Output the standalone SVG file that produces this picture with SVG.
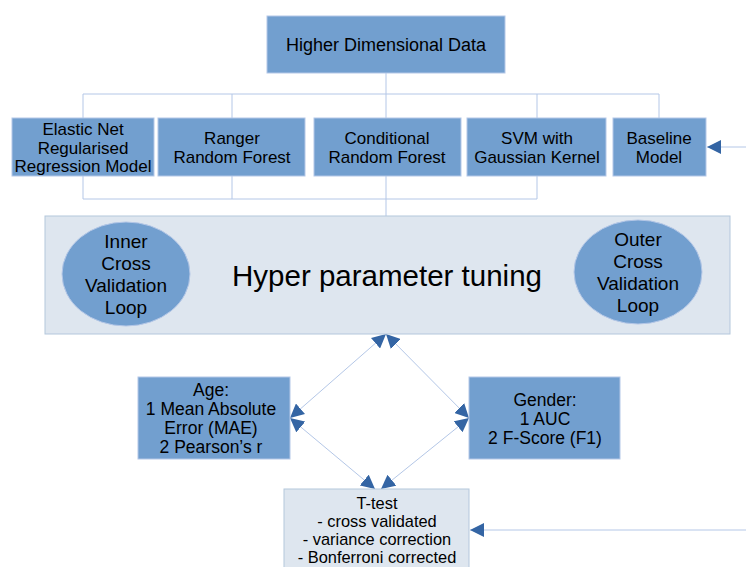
<svg xmlns="http://www.w3.org/2000/svg" width="746" height="567" viewBox="0 0 746 567">
<defs>
<style>
.box{fill:#729fcf;stroke:#b4c7e7;stroke-width:1}
.pale{fill:#dee6ef;stroke:#b4c7dc;stroke-width:1}
.ell{fill:#729fcf;stroke:#b4c7e7;stroke-width:1}
.t{font-family:"Liberation Sans",Arial,sans-serif;font-size:17px;fill:#000;text-anchor:middle}
.tt{font-family:"Liberation Sans",Arial,sans-serif;font-size:18px;fill:#000;text-anchor:middle}
.tm{font-family:"Liberation Sans",Arial,sans-serif;font-size:17.5px;fill:#000;text-anchor:middle}
.ts{font-family:"Liberation Sans",Arial,sans-serif;font-size:16.4px;fill:#000;text-anchor:middle}
.te{font-family:"Liberation Sans",Arial,sans-serif;font-size:19px;fill:#000;text-anchor:middle}
.big{font-family:"Liberation Sans",Arial,sans-serif;font-size:29.5px;fill:#000;text-anchor:middle}
.ln{fill:none;stroke:#b4c7e7;stroke-width:1}
.ar{fill:none;stroke:#b4c7e7;stroke-width:1;marker-end:url(#ah)}
.ar2{fill:none;stroke:#b4c7e7;stroke-width:1;marker-start:url(#ah);marker-end:url(#ah)}
</style>
<marker id="ah" viewBox="0 0 12 12" refX="12" refY="6" markerWidth="14" markerHeight="14" markerUnits="userSpaceOnUse" orient="auto-start-reverse">
<path d="M0,0 L12,6 L0,12 Z" fill="#3465a4"/>
</marker>
</defs>
<g id="connectors">
<path class="ln" d="M386,73 V118"/>
<path class="ln" d="M83,118 V94 H659 V118"/>
<path class="ln" d="M232,94 V118"/>
<path class="ln" d="M537,94 V118"/>
<path class="ln" d="M83,176 V199 H537 V176"/>
<path class="ln" d="M232,176 V199"/>
<path class="ln" d="M386,176 V216"/>
<path class="ar" d="M746,147 H707"/>
<path class="ar" d="M746,530 H470"/>
<path class="ar2" d="M386,334 L290,418"/>
<path class="ar2" d="M386,334 L469,418"/>
<path class="ar2" d="M290,418 L375,489"/>
<path class="ar2" d="M469,418 L381,489"/>
</g>
<g id="top">
<rect class="box" x="267" y="16" width="238" height="57"/>
<text class="tt" x="386" y="51">Higher Dimensional Data</text>
</g>
<g id="elastic">
<rect class="box" x="12" y="118" width="142" height="58"/>
<text class="t" x="83" y="135">Elastic Net</text>
<text class="t" x="83" y="154">Regularised</text>
<text class="t" x="83" y="172">Regression Model</text>
</g>
<g id="ranger">
<rect class="box" x="158" y="118" width="147" height="58"/>
<text class="t" x="232" y="144">Ranger</text>
<text class="t" x="232" y="163">Random Forest</text>
</g>
<g id="conditional">
<rect class="box" x="314" y="118" width="147" height="58"/>
<text class="t" x="387" y="144">Conditional</text>
<text class="t" x="387" y="163">Random Forest</text>
</g>
<g id="svm">
<rect class="box" x="467" y="118" width="139" height="58"/>
<text class="t" x="537" y="144">SVM with</text>
<text class="t" x="537" y="163">Gaussian Kernel</text>
</g>
<g id="baseline">
<rect class="box" x="613" y="118" width="93" height="58"/>
<text class="t" x="659" y="144">Baseline</text>
<text class="t" x="659" y="163">Model</text>
</g>
<g id="hyper">
<rect class="pale" x="45" y="216" width="685" height="118"/>
<text class="big" x="387" y="286">Hyper parameter tuning</text>
</g>
<g id="inner">
<ellipse class="ell" cx="126" cy="274" rx="64" ry="52"/>
<text class="te" x="126" y="248">Inner</text>
<text class="te" x="126" y="270">Cross</text>
<text class="te" x="126" y="292">Validation</text>
<text class="te" x="126" y="314">Loop</text>
</g>
<g id="outer">
<ellipse class="ell" cx="638" cy="272" rx="64" ry="52"/>
<text class="te" x="638" y="246">Outer</text>
<text class="te" x="638" y="268">Cross</text>
<text class="te" x="638" y="290">Validation</text>
<text class="te" x="638" y="312">Loop</text>
</g>
<g id="age">
<rect class="box" x="138" y="377" width="152" height="82"/>
<text class="tm" x="211" y="396">Age:</text>
<text class="tm" x="211" y="415">1 Mean Absolute</text>
<text class="tm" x="211" y="434">Error (MAE)</text>
<text class="tm" x="211" y="453">2 Pearson’s r</text>
</g>
<g id="gender">
<rect class="box" x="469" y="377" width="151" height="82"/>
<text class="tm" x="545" y="406">Gender:</text>
<text class="tm" x="545" y="425">1 AUC</text>
<text class="tm" x="545" y="444">2 F-Score (F1)</text>
</g>
<g id="ttest">
<rect class="pale" x="284" y="489" width="185" height="85"/>
<text class="ts" x="377" y="509">T-test</text>
<text class="ts" x="377" y="527">- cross validated</text>
<text class="ts" x="377" y="545">- variance correction</text>
<text class="ts" x="377" y="563">- Bonferroni corrected</text>
</g>
</svg>
